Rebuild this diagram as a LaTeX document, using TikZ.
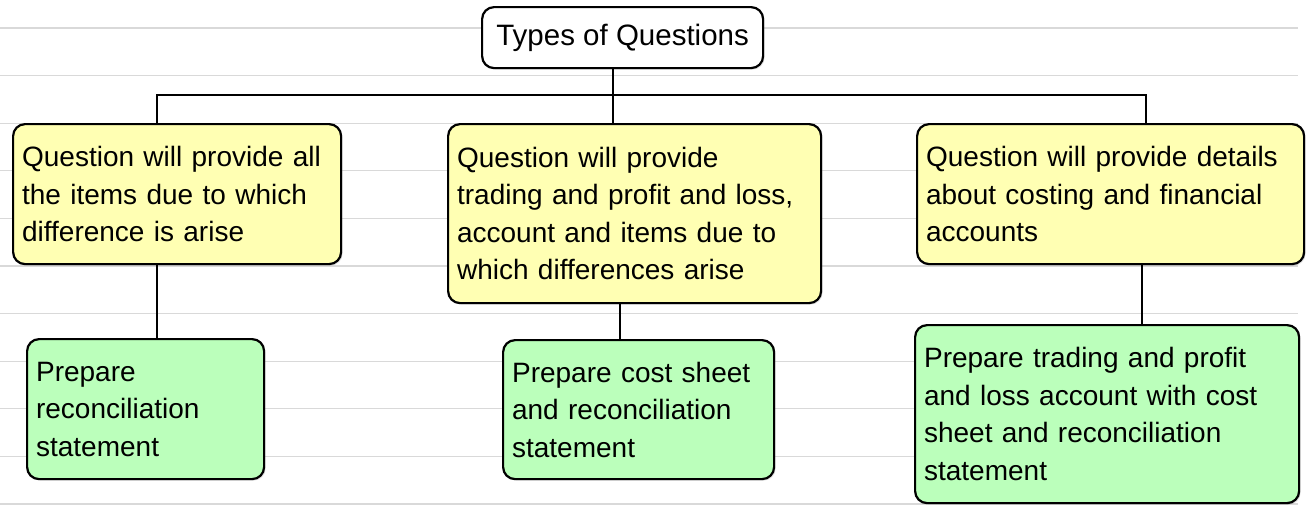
\documentclass[tikz,border=0pt]{standalone}
\usepackage{fontspec}
\setmainfont{Liberation Sans}
\usetikzlibrary{shadows}
\definecolor{boxyellow}{HTML}{FFFFB3}
\definecolor{boxgreen}{HTML}{BBFFBB}
\definecolor{ruleline}{HTML}{D9D9D9}
\tikzset{
  basebox/.style={draw=black, line width=2.2pt, rounded corners=12pt, anchor=north west,
    inner xsep=9pt, inner ysep=4pt, align=left,
    font=\fontsize{28}{37.5}\selectfont,
    drop shadow={opacity=0.25, shadow xshift=1.5pt, shadow yshift=-1.5pt}},
  titlebox/.style={basebox, fill=white, align=center, inner xsep=6pt,
    font=\fontsize{29.5}{36}\selectfont},
  qbox/.style={basebox, fill=boxyellow},
  abox/.style={basebox, fill=boxgreen},
  conn/.style={draw=black, line width=1.7pt},
  rule/.style={draw=ruleline, line width=1.3pt}
}
\begin{document}
\begin{tikzpicture}[x=1pt, y=-1pt]
\useasboundingbox (0,0) rectangle (1312,507);
\fill[white] (0,0) rectangle (1312,507);
% ruled background
\foreach \yy in {28,75.6,123.2,170.8,218.4,266,313.6,361.2,408.8,456.4,504}
  \draw[rule] (0,\yy) -- (1298,\yy);

\node[titlebox, minimum width=281pt, minimum height=61pt] (title) at (481,6) {Types of Questions};

\node[qbox, text width=310pt, minimum height=140pt] (b1) at (12,123)
  {Question will provide all\\the items due to which\\difference is arise};
\node[qbox, text width=355pt, minimum height=179pt] (b2) at (447,123)
  {Question will provide\\trading and profit and loss,\\account and items due to\\which differences arise};
\node[qbox, text width=369pt, minimum height=140pt] (b3) at (916,123)
  {Question will provide details\\about costing and financial\\accounts};

\node[abox, text width=219pt, minimum height=140pt] (g1) at (26,338)
  {Prepare\\reconciliation\\statement};
\node[abox, text width=253pt, minimum height=139pt] (g2) at (502,339)
  {Prepare cost sheet\\and reconciliation\\statement};
\node[abox, text width=366pt, minimum height=178pt] (g3) at (914,324)
  {Prepare trading and profit\\and loss account with cost\\sheet and reconciliation\\statement};

\coordinate (jl) at (157,95);
\coordinate (jm) at (613,95);
\coordinate (jr) at (1146,95);
\coordinate (k2) at (620,0);
\coordinate (k3) at (1142,0);

\draw[conn] (jm |- title.south) -- (jm |- b2.north);
\draw[conn] (jl |- b1.north) -- (jl) -- (jr) -- (jr |- b3.north);
\draw[conn] (jl |- b1.south) -- (jl |- g1.north);
\draw[conn] (k2 |- b2.south) -- (k2 |- g2.north);
\draw[conn] (k3 |- b3.south) -- (k3 |- g3.north);
\end{tikzpicture}
\end{document}
